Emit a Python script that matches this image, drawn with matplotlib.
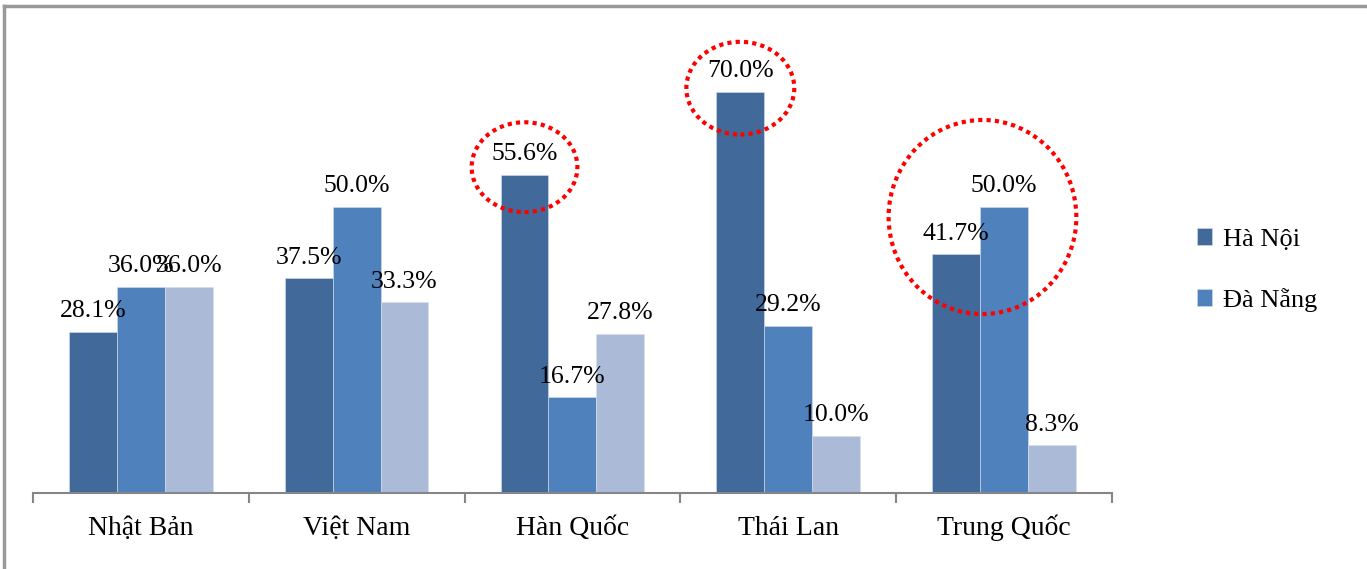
import numpy as np
import matplotlib.pyplot as plt
from matplotlib.patches import Ellipse
from matplotlib.lines import Line2D

# Donnees
categories = ['Nhật Bản', 'Việt Nam', 'Hàn Quốc', 'Thái Lan', 'Trung Quốc']
ha_noi = [28.1, 37.5, 55.6, 70.0, 41.7]
da_nang = [36.0, 50.0, 16.7, 29.2, 50.0]
khac = [36.0, 33.3, 27.8, 10.0, 8.3]
legend_labels = ['Hà Nội', 'Đà Nẵng']

# Cercles rouges (indice categorie, decalage, largeur, hauteur, centre y)
highlights = [(2, 0, 0.49, 15.7, 56.9), (3, 0, 0.50, 16.2, 70.7), (4, 0.55, 0.87, 33.9, 48.2)]

colors = ['#41699A', '#4F81BD', '#AABAD7']
plt.rcParams['font.family'] = ['Liberation Serif', 'DejaVu Serif']

fig = plt.figure(figsize=(13.67, 5.69), dpi=100)
ax = fig.add_axes([0.0241, 0.1336, 0.7893, 0.805])

x = np.arange(len(categories))
w = 0.222
series = [ha_noi, da_nang, khac]
bars = []
for i, s in enumerate(series):
    b = ax.bar(x + (i - 1) * w, s, w, color=colors[i], edgecolor='#D5DEEB', linewidth=0.4)
    bars.append(b)
    for xi, v in zip(x + (i - 1) * w, s):
        ax.annotate('%.1f%%' % v, (xi, v), xytext=(0, 7), textcoords='offset points',
                    ha='center', va='bottom', fontsize=18.5)

# Ellipses pointillees
for cat, off, ew, eh, cy in highlights:
    cx = cat - w + off * w
    e = Ellipse((cx, cy), ew, eh, fill=False, edgecolor='red', linewidth=3,
                linestyle=(0, (1, 1)), clip_on=False)
    ax.add_patch(e)

ax.set_xlim(-0.5, len(categories) - 0.5)
ax.set_ylim(0, 80)
ax.set_yticks([])
for sp in ['top', 'right', 'left']:
    ax.spines[sp].set_visible(False)
ax.spines['bottom'].set_color('#868686')
ax.spines['bottom'].set_linewidth(1.5)
ax.set_xticks(x)
ax.set_xticklabels(categories, fontsize=20, va='baseline')
ax.tick_params(axis='x', which='major', length=0, pad=30)
ax.set_xticks(np.arange(len(categories) + 1) - 0.5, minor=True)
ax.tick_params(axis='x', which='minor', length=7, width=1.5, color='#868686')

# Legende (seulement deux series)
fig.legend([bars[0], bars[1]], legend_labels, loc='center left',
           bbox_to_anchor=(0.858, 0.525), frameon=False, fontsize=19,
           handlelength=0.6, handleheight=0.6, handletextpad=0.4, labelspacing=1.4)

# Cadre
fig.add_artist(Line2D([0.003, 1.0], [0.989, 0.989], color='#999999', lw=2.5, transform=fig.transFigure))
fig.add_artist(Line2D([0.003, 0.003], [0.0, 0.989], color='#999999', lw=2.5, transform=fig.transFigure))

fig.savefig('out.png', dpi=100)
